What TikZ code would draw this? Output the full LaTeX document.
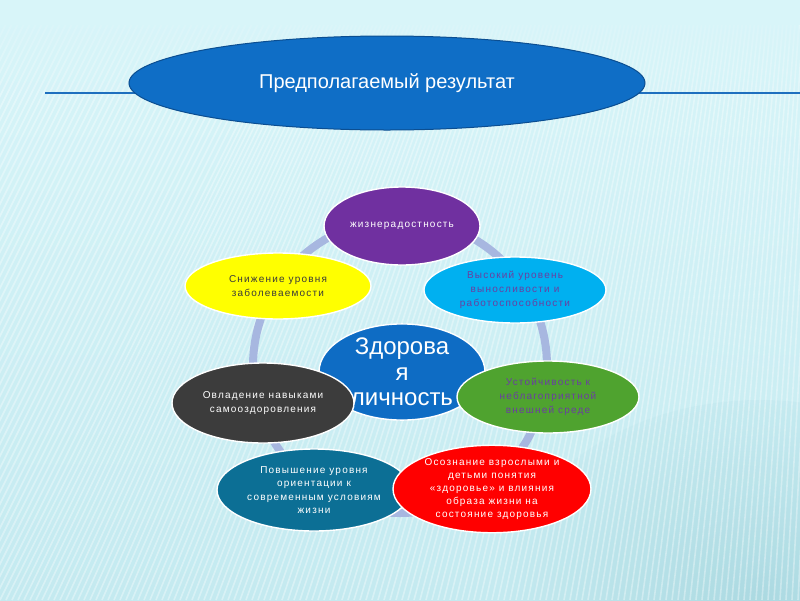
\documentclass[tikz,border=0pt]{standalone}
\usepackage{fontspec}
\setmainfont{Liberation Sans}
\newfontfamily\spaced[LetterSpace=12]{Liberation Sans}
\usetikzlibrary{shapes.geometric,fadings}
\definecolor{bgtop}{HTML}{D8F5F9}
\definecolor{bgbot}{HTML}{C4EAF0}
\definecolor{bgdark}{HTML}{A6D6DE}
\definecolor{ringc}{HTML}{A7B7E0}
\definecolor{topblue}{HTML}{0F6EC6}
\definecolor{topedge}{HTML}{0B4E91}
\definecolor{lineblue}{HTML}{1E6FBF}
\definecolor{cpurple}{HTML}{7030A0}
\definecolor{ccyan}{HTML}{00B0F0}
\definecolor{cyellow}{HTML}{FFFF00}
\definecolor{ccenter}{HTML}{0E6CC4}
\definecolor{cblack}{HTML}{3C3C3C}
\definecolor{cgreen}{HTML}{4FA32F}
\definecolor{cteal}{HTML}{0C6F95}
\definecolor{cred}{HTML}{FF0000}
\definecolor{violettxt}{HTML}{6A3FA0}
\definecolor{darktxt}{HTML}{3A3A3A}
\tikzfading[name=topfade, top color=transparent!0, bottom color=transparent!100]
\tikzset{
  bubble/.style={ellipse, draw=white, line width=1.4pt, inner sep=0pt,
    align=center, font=\spaced\fontsize{10}{14}\selectfont},
  headell/.style={ellipse, draw=topedge, line width=1pt, fill=topblue, inner sep=0pt,
    text=white, font=\fontsize{20}{22}\selectfont},
  stripe/.style={white, line width=1.6pt, opacity=0.35},
}
\begin{document}
\begin{tikzpicture}[x=1pt,y=-1pt]
\useasboundingbox (0,0) rectangle (800,600);
% background
\shade[top color=bgtop, bottom color=bgbot] (0,0) rectangle (800,600);
\begin{scope}
\clip (0,0) rectangle (800,600);
\shade[inner color=bgdark, outer color=bgbot, opacity=0.8] (760,600) ellipse [x radius=260, y radius=200];
\foreach \x in {-300,-294,...,820} {
  \pgfmathsetmacro{\off}{max(0.05,0.5-0.45*max(\x,0)/800)*580}
  \draw[stripe] (\x,600) -- (\x+\off,20);
}
\fill[bgtop, path fading=topfade] (0,0) rectangle (800,90);
\fill[bgtop] (0,0) rectangle (800,25);
\end{scope}
% header line and ellipse
\coordinate (lineL) at (45,93);
\coordinate (lineR) at (800,93);
\draw[lineblue, line width=1.3pt] (lineL) -- (lineR);
\node[headell, minimum width=516, minimum height=94] (head) at (387,83) {Предполагаемый результат};
% ring
\node[circle, draw=ringc, line width=8pt, minimum size=294, inner sep=0pt] (ring) at (400,366) {};
% bubbles
\node[bubble, fill=cpurple, text=white, minimum width=156, minimum height=78] (joy) at (402,226) {жизнерадостность};
\node[bubble, fill=ccyan, text=violettxt, minimum width=182, minimum height=66] (endur) at (515,290) {Высокий уровень\\выносливости и\\работоспособности};
\node[bubble, fill=cyellow, text=darktxt, minimum width=186, minimum height=66] (ill) at (278,286) {Снижение уровня\\заболеваемости};
\node[ellipse, fill=ccenter, draw=white, line width=1.4pt, inner sep=0pt, minimum width=166, minimum height=78, text=white, align=center, font=\fontsize{24}{25.5}\selectfont] (core) at (402,372) {Здорова\\я\\личность};
\node[bubble, fill=cblack, text=white, minimum width=182, minimum height=80] (self) at (263,403) {Овладение навыками\\самооздоровления};
\node[bubble, fill=cgreen, text=violettxt, minimum width=182, minimum height=72] (resist) at (548,397) {Устойчивость к\\неблагоприятной\\внешней среде};
\node[bubble, fill=cteal, text=white, minimum width=194, minimum height=82, font=\spaced\fontsize{10}{13.3}\selectfont] (orient) at (314,490) {Повышение уровня\\ориентации к\\современным условиям\\жизни};
\node[bubble, fill=cred, text=white, minimum width=198, minimum height=82, font=\spaced\fontsize{10}{13.2}\selectfont] (aware) at (492,489) {Осознание взрослыми и\\детьми понятия\\«здоровье» и влияния\\образа жизни на\\состояние здоровья};
\end{tikzpicture}
\end{document}
